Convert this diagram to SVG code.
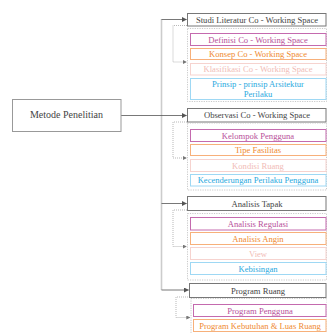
<svg xmlns="http://www.w3.org/2000/svg" width="327" height="333" viewBox="0 0 327 333">
<defs>
<marker id="ah" viewBox="0 0 6 6" refX="5.5" refY="3" markerWidth="5" markerHeight="5" orient="auto" markerUnits="userSpaceOnUse"><path d="M0,0 L6,3 L0,6 Z" fill="#555"/></marker>
<marker id="ahd" viewBox="0 0 6 6" refX="5.5" refY="3" markerWidth="4" markerHeight="4" orient="auto" markerUnits="userSpaceOnUse"><path d="M0,0 L6,3 L0,6 Z" fill="#777"/></marker>
</defs>
<style>
text{font-family:"Liberation Serif","DejaVu Serif",serif;font-size:8.6px;text-anchor:middle;dominant-baseline:central}
.hd rect{fill:#fff;stroke:#777;stroke-width:1}
.hd text{fill:#444}
.ct{fill:none;stroke:#bbb;stroke-width:0.8;stroke-dasharray:1.2 1.2}
.m rect{fill:#fff;stroke:#c46aae;stroke-width:1}
.m text{fill:#b8509a}
.o rect{fill:#fff;stroke:#f7b07a;stroke-width:1}
.o text{fill:#ef8a30}
.p rect{fill:#fff;stroke:#f6d3cf;stroke-width:1}
.p text{fill:#f1bcb6}
.b rect{fill:#fff;stroke:#9ed8f4;stroke-width:1}
.b text{fill:#2aa9e0}
.cn{fill:none;stroke:#555;stroke-width:0.8}
.cv{fill:none;stroke:#ccc;stroke-width:1.6}
.cd{fill:none;stroke:#888;stroke-width:0.6;stroke-dasharray:1 1}
</style>
<g id="connectors">
<path class="cv" d="M161.5,19 V290"/>
<path class="cn" d="M161.5,19.5 H186.5" marker-end="url(#ah)"/>
<path class="cn" d="M121,115.5 H186.5" marker-end="url(#ah)"/>
<path class="cn" d="M161.5,203.5 H186.5" marker-end="url(#ah)"/>
<path class="cn" d="M161.5,290 H188.5" marker-end="url(#ah)"/>
<path class="cd" d="M187,25.5 H173 V62 H186.5" marker-end="url(#ahd)"/>
<path class="cd" d="M187,122 H173 V158 H186.5" marker-end="url(#ahd)"/>
<path class="cd" d="M187,210 H173 V246.5 H186.5" marker-end="url(#ahd)"/>
<path class="cd" d="M190,297 H176 V317.5 H190" marker-end="url(#ahd)"/>
</g>
<g id="metode"><rect x="12.5" y="99.5" width="108.5" height="32" fill="#fff" stroke="#999" stroke-width="1"/><text x="66.5" y="114.5" style="font-size:10px;fill:#444">Metode Penelitian</text></g>

<g id="studi" class="hd"><rect x="187.5" y="13.5" width="138.5" height="12.5"/><text x="257" y="19.8">Studi Literatur Co - Working Space</text></g>
<rect class="ct" x="187.5" y="28.5" width="139" height="73"/>
<g id="definisi" class="m"><rect x="190.5" y="33.5" width="135.5" height="12"/><text x="258" y="39.5">Definisi Co - Working Space</text></g>
<g id="konsep" class="o"><rect x="190.5" y="48.5" width="135.5" height="11"/><text x="258" y="54">Konsep Co - Working Space</text></g>
<g id="klasifikasi" class="p"><rect x="190.5" y="63.5" width="135.5" height="11.5"/><text x="258" y="69.3">Klasifikasi Co - Working Space</text></g>
<g id="prinsip" class="b"><rect x="190.5" y="78.5" width="135.5" height="21"/><text x="258" y="84">Prinsip - prinsip Arsitektur</text><text x="258" y="94">Perilaku</text></g>

<g id="observasi" class="hd"><rect x="187.5" y="108.5" width="138.5" height="13.5"/><text x="257" y="115.3">Observasi Co - Working Space</text></g>
<rect class="ct" x="187.5" y="123" width="139" height="67"/>
<g id="kelompok" class="m"><rect x="190.5" y="129.5" width="135.5" height="12"/><text x="258" y="135.5">Kelompok Pengguna</text></g>
<g id="tipe" class="o"><rect x="190.5" y="144.5" width="135.5" height="11"/><text x="258" y="150">Tipe Fasilitas</text></g>
<g id="kondisi" class="p"><rect x="190.5" y="159.5" width="135.5" height="12"/><text x="258" y="165.5">Kondisi Ruang</text></g>
<g id="kecenderungan" class="b"><rect x="190.5" y="174.5" width="135.5" height="11.5"/><text x="258" y="180.3">Kecenderungan Perilaku Pengguna</text></g>

<g id="tapak" class="hd"><rect x="187.5" y="196.5" width="138.5" height="14"/><text x="257" y="203.5">Analisis Tapak</text></g>
<rect class="ct" x="187.5" y="213.5" width="139" height="66.5"/>
<g id="regulasi" class="m"><rect x="190.5" y="217.5" width="135.5" height="12.5"/><text x="258" y="223.8">Analisis Regulasi</text></g>
<g id="angin" class="o"><rect x="190.5" y="232.5" width="135.5" height="12"/><text x="258" y="238.5">Analisis Angin</text></g>
<g id="view" class="p"><rect x="190.5" y="247.5" width="135.5" height="12"/><text x="258" y="253.5">View</text></g>
<g id="kebisingan" class="b"><rect x="190.5" y="262.5" width="135.5" height="12"/><text x="258" y="268.5">Kebisingan</text></g>

<g id="program" class="hd"><rect x="189.5" y="283.5" width="136.5" height="14"/><text x="258" y="290.5">Program Ruang</text></g>
<rect class="ct" x="191" y="298.5" width="136" height="36"/>
<g id="pengguna" class="m"><rect x="193.5" y="304.5" width="132.5" height="12"/><text x="260" y="310.5">Program Pengguna</text></g>
<g id="kebutuhan" class="o"><rect x="193.5" y="319.5" width="132.5" height="12"/><text x="260" y="325.5">Program Kebutuhan &amp; Luas Ruang</text></g>
</svg>
